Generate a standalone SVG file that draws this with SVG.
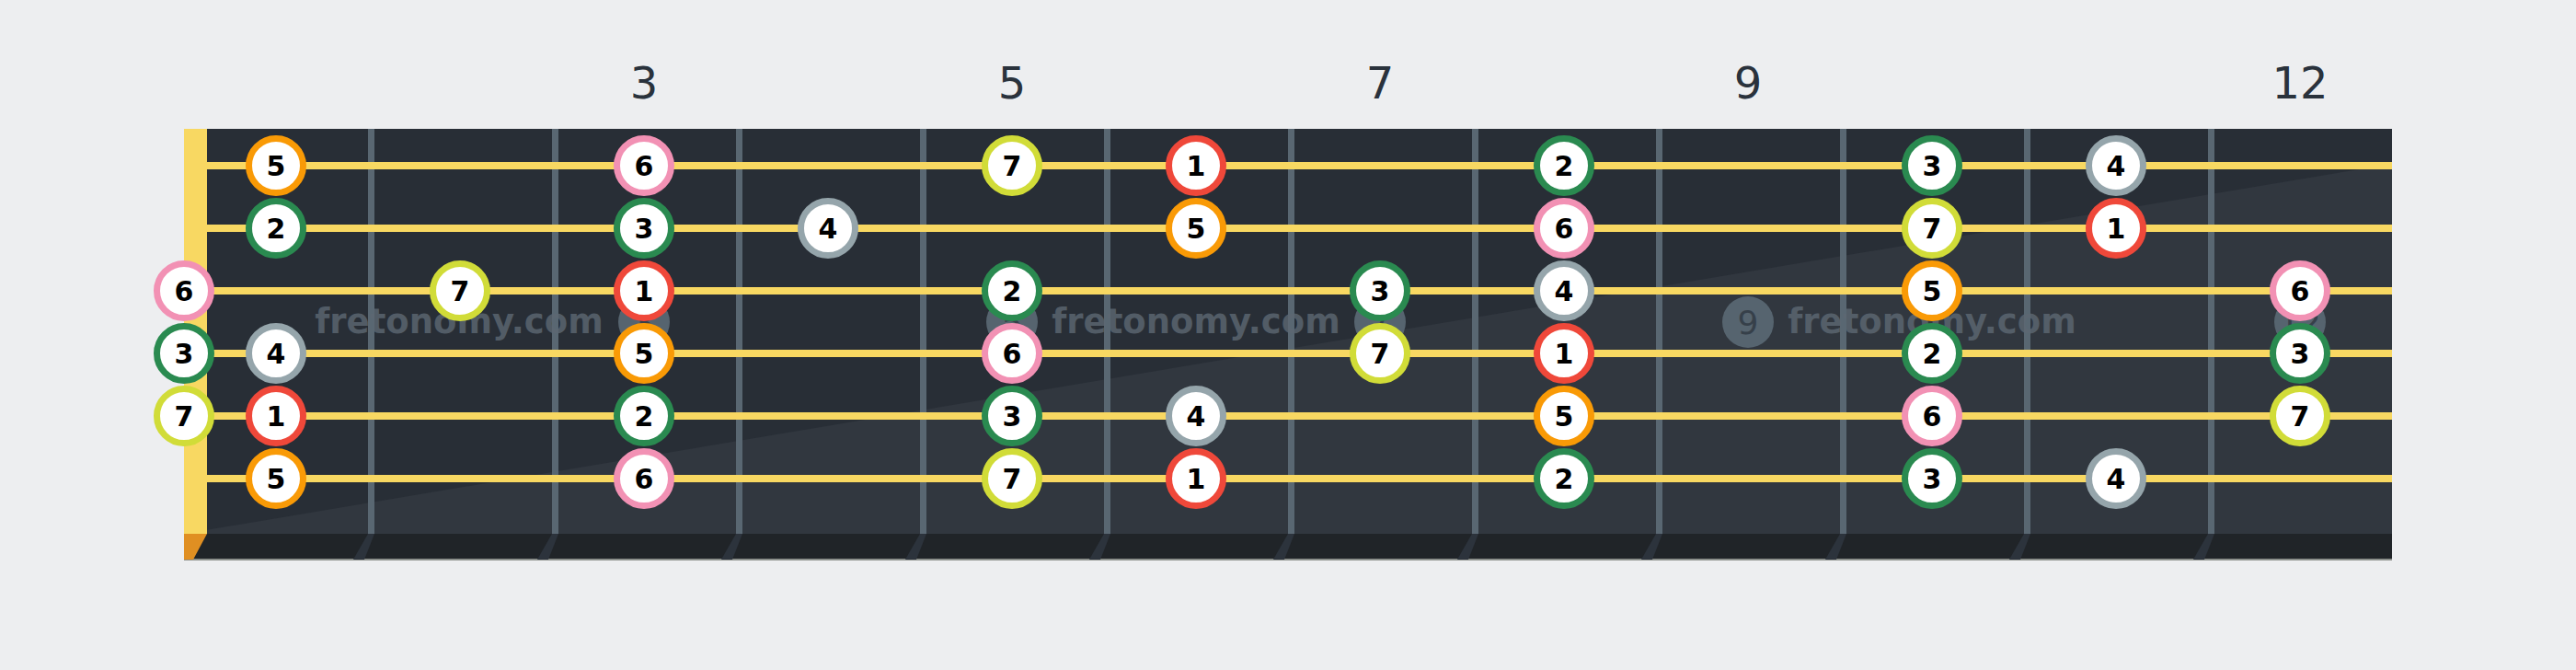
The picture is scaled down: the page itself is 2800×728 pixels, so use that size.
<svg xmlns="http://www.w3.org/2000/svg" width="2800" height="728" viewBox="0 0 2800 728">
<style>
.fl{font-family:"DejaVu Sans","Liberation Sans",sans-serif;font-size:48px;fill:#2a323c;text-anchor:middle}
.wm{font-family:"DejaVu Sans","Liberation Sans",sans-serif;font-size:37px;font-weight:bold;fill:#5d6873;opacity:0.8;text-anchor:middle}
.inl{fill:#56646f}
.inlt{font-family:"DejaVu Sans","Liberation Sans",sans-serif;font-size:36px;fill:#36404a;text-anchor:middle}
.fret{stroke:#596772;stroke-width:7}
.fs{fill:#2c333c}
.str{stroke:#f8d862;stroke-width:8}
.n circle{fill:#ffffff;stroke-width:7}
.n text{font-family:"DejaVu Sans","Liberation Sans",sans-serif;font-size:30px;font-weight:bold;fill:#000;text-anchor:middle}
.d1 circle{stroke:#ef483a}
.d2 circle{stroke:#2a8a50}
.d3 circle{stroke:#2a8a50}
.d4 circle{stroke:#95a5ab}
.d5 circle{stroke:#f99a06}
.d6 circle{stroke:#f291b4}
.d7 circle{stroke:#d1dc38}
</style>
<rect width="2800" height="728" fill="#edeef0"/>
<g id="fret-labels">
<text class="fl" x="700" y="107">3</text>
<text class="fl" x="1100" y="107">5</text>
<text class="fl" x="1500" y="107">7</text>
<text class="fl" x="1900" y="107">9</text>
<text class="fl" x="2500" y="107">12</text>
</g>
<g id="fretboard">
<rect x="200" y="140" width="2400" height="440" fill="#282e36"/>
<polygon points="200,580 2600,178 2600,580" fill="#31373f"/>
<rect x="200" y="580" width="2400" height="28" fill="#202428"/>
<line x1="200" y1="608" x2="2600" y2="608" stroke="#8c908c" stroke-width="2"/>
<polygon points="200,580 225,580 210,608 200,608" fill="#e08f22"/>
<g id="fret-stripes">
<polygon class="fs" points="400,580 407,580 396,608 384,608"/>
<polygon class="fs" points="600,580 607,580 596,608 584,608"/>
<polygon class="fs" points="800,580 807,580 796,608 784,608"/>
<polygon class="fs" points="1000,580 1007,580 996,608 984,608"/>
<polygon class="fs" points="1200,580 1207,580 1196,608 1184,608"/>
<polygon class="fs" points="1400,580 1407,580 1396,608 1384,608"/>
<polygon class="fs" points="1600,580 1607,580 1596,608 1584,608"/>
<polygon class="fs" points="1800,580 1807,580 1796,608 1784,608"/>
<polygon class="fs" points="2000,580 2007,580 1996,608 1984,608"/>
<polygon class="fs" points="2200,580 2207,580 2196,608 2184,608"/>
<polygon class="fs" points="2400,580 2407,580 2396,608 2384,608"/>
</g>
<g id="inlays">
<circle class="inl" cx="700" cy="350" r="28"/><text class="inlt" x="700" y="363">3</text>
<circle class="inl" cx="1100" cy="350" r="28"/><text class="inlt" x="1100" y="363">5</text>
<circle class="inl" cx="1500" cy="350" r="28"/><text class="inlt" x="1500" y="363">7</text>
<circle class="inl" cx="1900" cy="350" r="28"/><text class="inlt" x="1900" y="363">9</text>
<circle class="inl" cx="2500" cy="350" r="28"/><text class="inlt" x="2500" y="363" font-size="30">12</text>
</g>
<g id="frets">
<line class="fret" x1="403.5" y1="140" x2="403.5" y2="580"/>
<line class="fret" x1="603.5" y1="140" x2="603.5" y2="580"/>
<line class="fret" x1="803.5" y1="140" x2="803.5" y2="580"/>
<line class="fret" x1="1003.5" y1="140" x2="1003.5" y2="580"/>
<line class="fret" x1="1203.5" y1="140" x2="1203.5" y2="580"/>
<line class="fret" x1="1403.5" y1="140" x2="1403.5" y2="580"/>
<line class="fret" x1="1603.5" y1="140" x2="1603.5" y2="580"/>
<line class="fret" x1="1803.5" y1="140" x2="1803.5" y2="580"/>
<line class="fret" x1="2003.5" y1="140" x2="2003.5" y2="580"/>
<line class="fret" x1="2203.5" y1="140" x2="2203.5" y2="580"/>
<line class="fret" x1="2403.5" y1="140" x2="2403.5" y2="580"/>
</g>
<g id="watermarks">
<text class="wm" x="499" y="362">fretonomy.com</text>
<text class="wm" x="1300" y="362">fretonomy.com</text>
<text class="wm" x="2100" y="362">fretonomy.com</text>
</g>
<rect id="nut" x="200" y="140" width="25" height="440" fill="#f8d862"/>
<g id="strings">
<line class="str" x1="225" y1="180" x2="2600" y2="180"/>
<line class="str" x1="225" y1="248" x2="2600" y2="248"/>
<line class="str" x1="225" y1="316" x2="2600" y2="316"/>
<line class="str" x1="225" y1="384" x2="2600" y2="384"/>
<line class="str" x1="225" y1="452" x2="2600" y2="452"/>
<line class="str" x1="225" y1="520" x2="2600" y2="520"/>
</g>
</g>
<g id="notes">
<g id="s1f1" class="n d5"><circle cx="300" cy="180" r="29.5"/><text x="300" y="191">5</text></g>
<g id="s1f3" class="n d6"><circle cx="700" cy="180" r="29.5"/><text x="700" y="191">6</text></g>
<g id="s1f5" class="n d7"><circle cx="1100" cy="180" r="29.5"/><text x="1100" y="191">7</text></g>
<g id="s1f6" class="n d1"><circle cx="1300" cy="180" r="29.5"/><text x="1300" y="191">1</text></g>
<g id="s1f8" class="n d2"><circle cx="1700" cy="180" r="29.5"/><text x="1700" y="191">2</text></g>
<g id="s1f10" class="n d3"><circle cx="2100" cy="180" r="29.5"/><text x="2100" y="191">3</text></g>
<g id="s1f11" class="n d4"><circle cx="2300" cy="180" r="29.5"/><text x="2300" y="191">4</text></g>
<g id="s2f1" class="n d2"><circle cx="300" cy="248" r="29.5"/><text x="300" y="259">2</text></g>
<g id="s2f3" class="n d3"><circle cx="700" cy="248" r="29.5"/><text x="700" y="259">3</text></g>
<g id="s2f4" class="n d4"><circle cx="900" cy="248" r="29.5"/><text x="900" y="259">4</text></g>
<g id="s2f6" class="n d5"><circle cx="1300" cy="248" r="29.5"/><text x="1300" y="259">5</text></g>
<g id="s2f8" class="n d6"><circle cx="1700" cy="248" r="29.5"/><text x="1700" y="259">6</text></g>
<g id="s2f10" class="n d7"><circle cx="2100" cy="248" r="29.5"/><text x="2100" y="259">7</text></g>
<g id="s2f11" class="n d1"><circle cx="2300" cy="248" r="29.5"/><text x="2300" y="259">1</text></g>
<g id="s3f0" class="n d6"><circle cx="200" cy="316" r="29.5"/><text x="200" y="327">6</text></g>
<g id="s3f2" class="n d7"><circle cx="500" cy="316" r="29.5"/><text x="500" y="327">7</text></g>
<g id="s3f3" class="n d1"><circle cx="700" cy="316" r="29.5"/><text x="700" y="327">1</text></g>
<g id="s3f5" class="n d2"><circle cx="1100" cy="316" r="29.5"/><text x="1100" y="327">2</text></g>
<g id="s3f7" class="n d3"><circle cx="1500" cy="316" r="29.5"/><text x="1500" y="327">3</text></g>
<g id="s3f8" class="n d4"><circle cx="1700" cy="316" r="29.5"/><text x="1700" y="327">4</text></g>
<g id="s3f10" class="n d5"><circle cx="2100" cy="316" r="29.5"/><text x="2100" y="327">5</text></g>
<g id="s3f12" class="n d6"><circle cx="2500" cy="316" r="29.5"/><text x="2500" y="327">6</text></g>
<g id="s4f0" class="n d3"><circle cx="200" cy="384" r="29.5"/><text x="200" y="395">3</text></g>
<g id="s4f1" class="n d4"><circle cx="300" cy="384" r="29.5"/><text x="300" y="395">4</text></g>
<g id="s4f3" class="n d5"><circle cx="700" cy="384" r="29.5"/><text x="700" y="395">5</text></g>
<g id="s4f5" class="n d6"><circle cx="1100" cy="384" r="29.5"/><text x="1100" y="395">6</text></g>
<g id="s4f7" class="n d7"><circle cx="1500" cy="384" r="29.5"/><text x="1500" y="395">7</text></g>
<g id="s4f8" class="n d1"><circle cx="1700" cy="384" r="29.5"/><text x="1700" y="395">1</text></g>
<g id="s4f10" class="n d2"><circle cx="2100" cy="384" r="29.5"/><text x="2100" y="395">2</text></g>
<g id="s4f12" class="n d3"><circle cx="2500" cy="384" r="29.5"/><text x="2500" y="395">3</text></g>
<g id="s5f0" class="n d7"><circle cx="200" cy="452" r="29.5"/><text x="200" y="463">7</text></g>
<g id="s5f1" class="n d1"><circle cx="300" cy="452" r="29.5"/><text x="300" y="463">1</text></g>
<g id="s5f3" class="n d2"><circle cx="700" cy="452" r="29.5"/><text x="700" y="463">2</text></g>
<g id="s5f5" class="n d3"><circle cx="1100" cy="452" r="29.5"/><text x="1100" y="463">3</text></g>
<g id="s5f6" class="n d4"><circle cx="1300" cy="452" r="29.5"/><text x="1300" y="463">4</text></g>
<g id="s5f8" class="n d5"><circle cx="1700" cy="452" r="29.5"/><text x="1700" y="463">5</text></g>
<g id="s5f10" class="n d6"><circle cx="2100" cy="452" r="29.5"/><text x="2100" y="463">6</text></g>
<g id="s5f12" class="n d7"><circle cx="2500" cy="452" r="29.5"/><text x="2500" y="463">7</text></g>
<g id="s6f1" class="n d5"><circle cx="300" cy="520" r="29.5"/><text x="300" y="531">5</text></g>
<g id="s6f3" class="n d6"><circle cx="700" cy="520" r="29.5"/><text x="700" y="531">6</text></g>
<g id="s6f5" class="n d7"><circle cx="1100" cy="520" r="29.5"/><text x="1100" y="531">7</text></g>
<g id="s6f6" class="n d1"><circle cx="1300" cy="520" r="29.5"/><text x="1300" y="531">1</text></g>
<g id="s6f8" class="n d2"><circle cx="1700" cy="520" r="29.5"/><text x="1700" y="531">2</text></g>
<g id="s6f10" class="n d3"><circle cx="2100" cy="520" r="29.5"/><text x="2100" y="531">3</text></g>
<g id="s6f11" class="n d4"><circle cx="2300" cy="520" r="29.5"/><text x="2300" y="531">4</text></g>
</g>
<g id="connectors"/>
</svg>
